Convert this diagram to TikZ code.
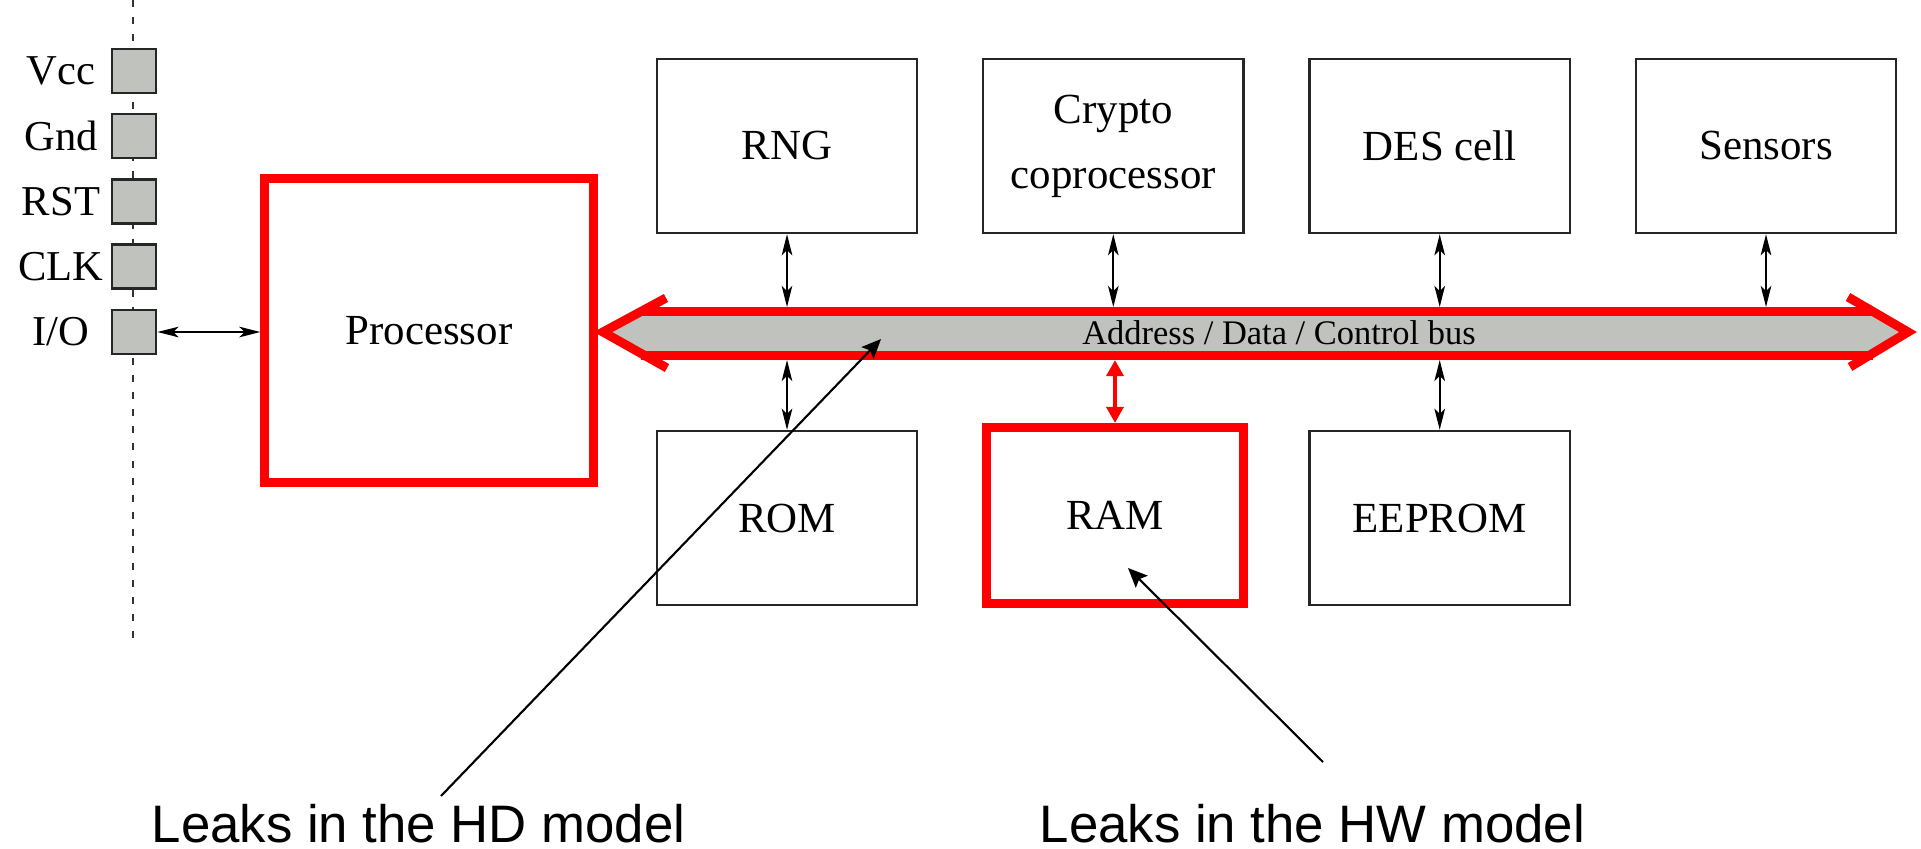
\documentclass[tikz,border=0pt]{standalone}
\usepackage{fontspec}
\setmainfont{Liberation Serif}
\newfontfamily\annofont{Liberation Sans}
\usetikzlibrary{arrows.meta}
\definecolor{busgray}{RGB}{191,194,189}
\definecolor{leakred}{RGB}{255,0,0}

\begin{document}
\begin{tikzpicture}[x=0.01cm, y=-0.01cm,
  unitbox/.style={draw=black!85, line width=0.65pt, minimum width=2.60cm, minimum height=1.74cm,
    align=center, inner sep=0pt, font=\fontsize{12.2pt}{18.5pt}\selectfont},
  leakbox/.style={draw=leakred, line width=0.09cm, inner sep=0pt, align=center,
    font=\fontsize{12.2pt}{18.5pt}\selectfont},
  pinbox/.style={draw=black!85, fill=busgray, line width=0.8pt, minimum size=0.44cm, inner sep=0pt},
  pinlabel/.style={inner sep=0pt, font=\fontsize{12.1pt}{14pt}\selectfont},
  link/.style={line width=0.6pt, {Stealth[length=6pt,width=3pt,inset=1.5pt]}-{Stealth[length=6pt,width=3pt,inset=1.5pt]}},
  hotlink/.style={draw=leakred, line width=1.15pt, {Triangle[length=4.6pt,width=4.8pt]}-{Triangle[length=4.6pt,width=4.8pt]}},
  pointer/.style={line width=0.6pt, -{Stealth[length=5.5pt,width=4.8pt,inset=1pt]}},
  redline/.style={draw=leakred, line width=0.09cm},
  annot/.style={inner sep=0pt, font=\annofont\fontsize{15pt}{18pt}\selectfont},
]
\useasboundingbox (0,0) rectangle (1921,848);

% card contact rail and pins
\coordinate (railtop) at (133,0);
\coordinate (railbot) at (133,642);
\draw[black!80, line width=0.6pt, dash pattern=on 2pt off 2.85pt] (railtop) -- (railbot);

\node[pinbox] (vcc) at (134,71) {};
\node[pinbox] (gnd) at (134,136) {};
\node[pinbox] (rst) at (134,201.5) {};
\node[pinbox] (clk) at (134,266.5) {};
\node[pinbox] (io)  at (134,332) {};
\node[pinlabel] (vcclabel) at (61,71) {Vcc};
\node[pinlabel] (gndlabel) at (61,136) {Gnd};
\node[pinlabel] (rstlabel) at (61,201.5) {RST};
\node[pinlabel] (clklabel) at (61,266.5) {CLK};
\node[pinlabel] (iolabel)  at (61,332) {I/O};

% processor
\node[leakbox, minimum width=3.28cm, minimum height=3.03cm] (proc) at (429,330.5) {Processor};
\draw[link] (io.east) -- (io.east -| proc.west);

% peripherals above the bus
\node[unitbox] (rng)     at (787,146)    {RNG};
\node[unitbox] (crypto)  at (1113.3,146) {Crypto\\coprocessor};
\node[unitbox] (des)     at (1439.7,146) {DES cell};
\node[unitbox] (sensors) at (1766,146)   {Sensors};

% memories below the bus
\node[unitbox] (rom)    at (787,518)    {ROM};
\node[leakbox, minimum width=2.575cm, minimum height=1.755cm] (ram) at (1115,515.25) {RAM};
\node[unitbox] (eeprom) at (1439.7,518) {EEPROM};

% system bus
\coordinate (bustop) at (0,307);
\coordinate (busbot) at (0,360);
\fill[busgray] (603,332) -- (641,311.5) -- (1873,311.5) -- (1908,332) -- (1873,355.5) -- (641,355.5) -- cycle;
\draw[redline] (641,311.5) -- (1873,311.5);
\draw[redline] (641,355.5) -- (1873,355.5);
\draw[redline, line join=miter] (666,298) -- (603,332) -- (667,368);
\draw[redline, line join=miter] (1848,297) -- (1908,332) -- (1850,367);
\node[inner sep=0pt, font=\fontsize{9.8pt}{12pt}\selectfont] (buslabel) at (1279,333) {Address / Data / Control bus};

\draw[link] (rng.south) -- (rng.south |- bustop);
\draw[link] (crypto.south) -- (crypto.south |- bustop);
\draw[link] (des.south) -- (des.south |- bustop);
\draw[link] (sensors.south) -- (sensors.south |- bustop);
\draw[link] (busbot -| rom.north) -- (rom.north);
\draw[hotlink] (busbot -| ram.north) -- (ram.north);
\draw[link] (busbot -| eeprom.north) -- (eeprom.north);

% leakage annotations
\node[annot, anchor=base west] (hdnote) at (151,842) {Leaks in the HD model};
\node[annot, anchor=base west] (hwnote) at (1039,842) {Leaks in the HW model};
\coordinate (hdfrom) at (441,796);
\coordinate (hdtip) at (881,339);
\coordinate (hwfrom) at (1323,762);
\coordinate (hwtip) at (1128,568);
\draw[pointer] (hdfrom) -- (hdtip);
\draw[pointer] (hwfrom) -- (hwtip);
\end{tikzpicture}
\end{document}
